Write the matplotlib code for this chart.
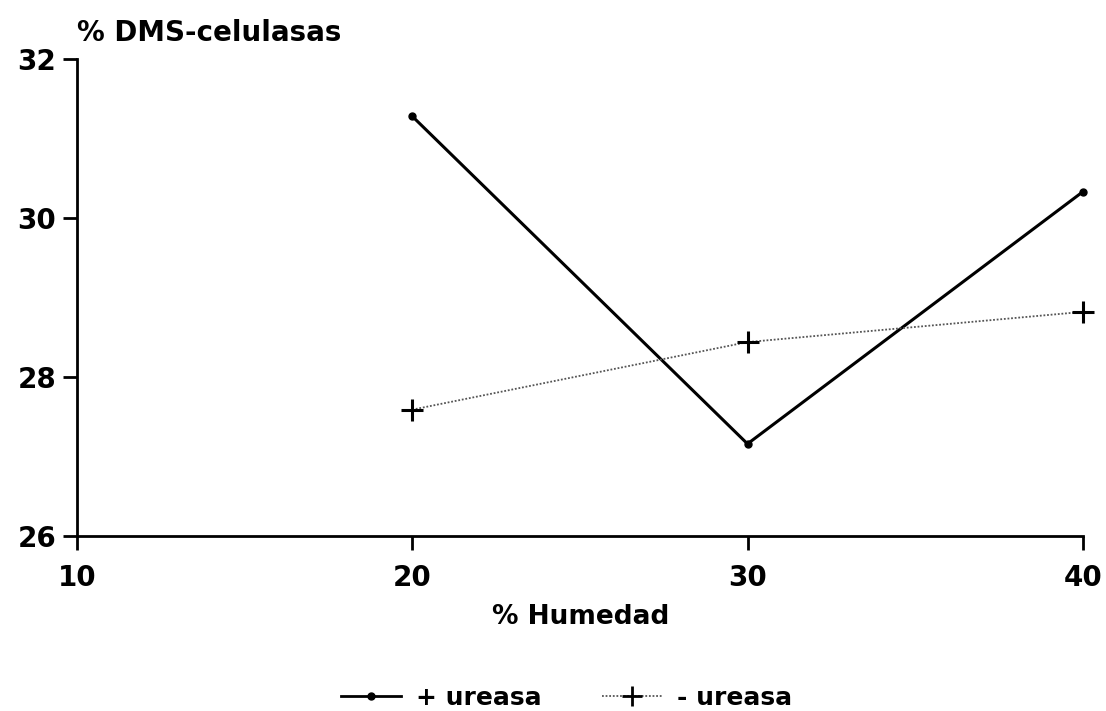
import matplotlib
matplotlib.use("Agg")
import matplotlib.pyplot as plt
from matplotlib.lines import Line2D

humedad = [20, 30, 40]
con_ureasa = [31.28, 27.16, 30.33]
sin_ureasa = [27.59, 28.44, 28.82]
xticks = [10, 20, 30, 40]
yticks = [26, 28, 30, 32]

plt.rcParams['font.family'] = ['DejaVu Sans']
plt.rcParams['font.weight'] = 'bold'

fig = plt.figure(figsize=(11.06, 7.11), dpi=100)
ax = fig.add_axes([0.0696, 0.246, 0.9094, 0.671])

ax.plot(humedad, con_ureasa, color='black', lw=2.2, marker='o', ms=5, label='+ ureasa', clip_on=False)
ax.plot(humedad, sin_ureasa, color='#555555', lw=1.3, ls=(0, (1, 1)), marker='+', ms=16,
        mew=2.2, mec='black', label='- ureasa', clip_on=False)

ax.set_xlim(10, 40)
ax.set_ylim(26, 32)
ax.set_xticks(xticks)
ax.set_yticks(yticks)
ax.set_xticklabels([str(v) for v in xticks], fontsize=20, fontweight='bold')
ax.set_yticklabels([str(v) for v in yticks], fontsize=20, fontweight='bold')
for s in ['top', 'right']:
    ax.spines[s].set_visible(False)
for s in ['left', 'bottom']:
    ax.spines[s].set_linewidth(2)
ax.tick_params(axis='both', width=2, length=10, direction='out')
ax.tick_params(axis='x', pad=10)
ax.tick_params(axis='y', pad=5)

fig.text(0.070, 0.953, '% DMS-celulasas', fontsize=20, fontweight='bold', ha='left', va='center')
fig.text(0.525, 0.132, '% Humedad', fontsize=19, fontweight='bold', ha='center', va='center')

handles = [Line2D([], [], color='black', lw=2, marker='o', ms=5),
           Line2D([], [], color='#555555', lw=1.3, ls=(0, (1, 1)), marker='+', ms=14, mew=2, mec='black')]
fig.legend(handles, ['+ ureasa', '- ureasa'], loc='center', bbox_to_anchor=(0.512, 0.018),
           ncol=2, frameon=False, prop={'size': 18, 'weight': 'bold'}, handlelength=2.4,
           columnspacing=2.4, handletextpad=0.6)

fig.savefig('out.png', dpi=100)
